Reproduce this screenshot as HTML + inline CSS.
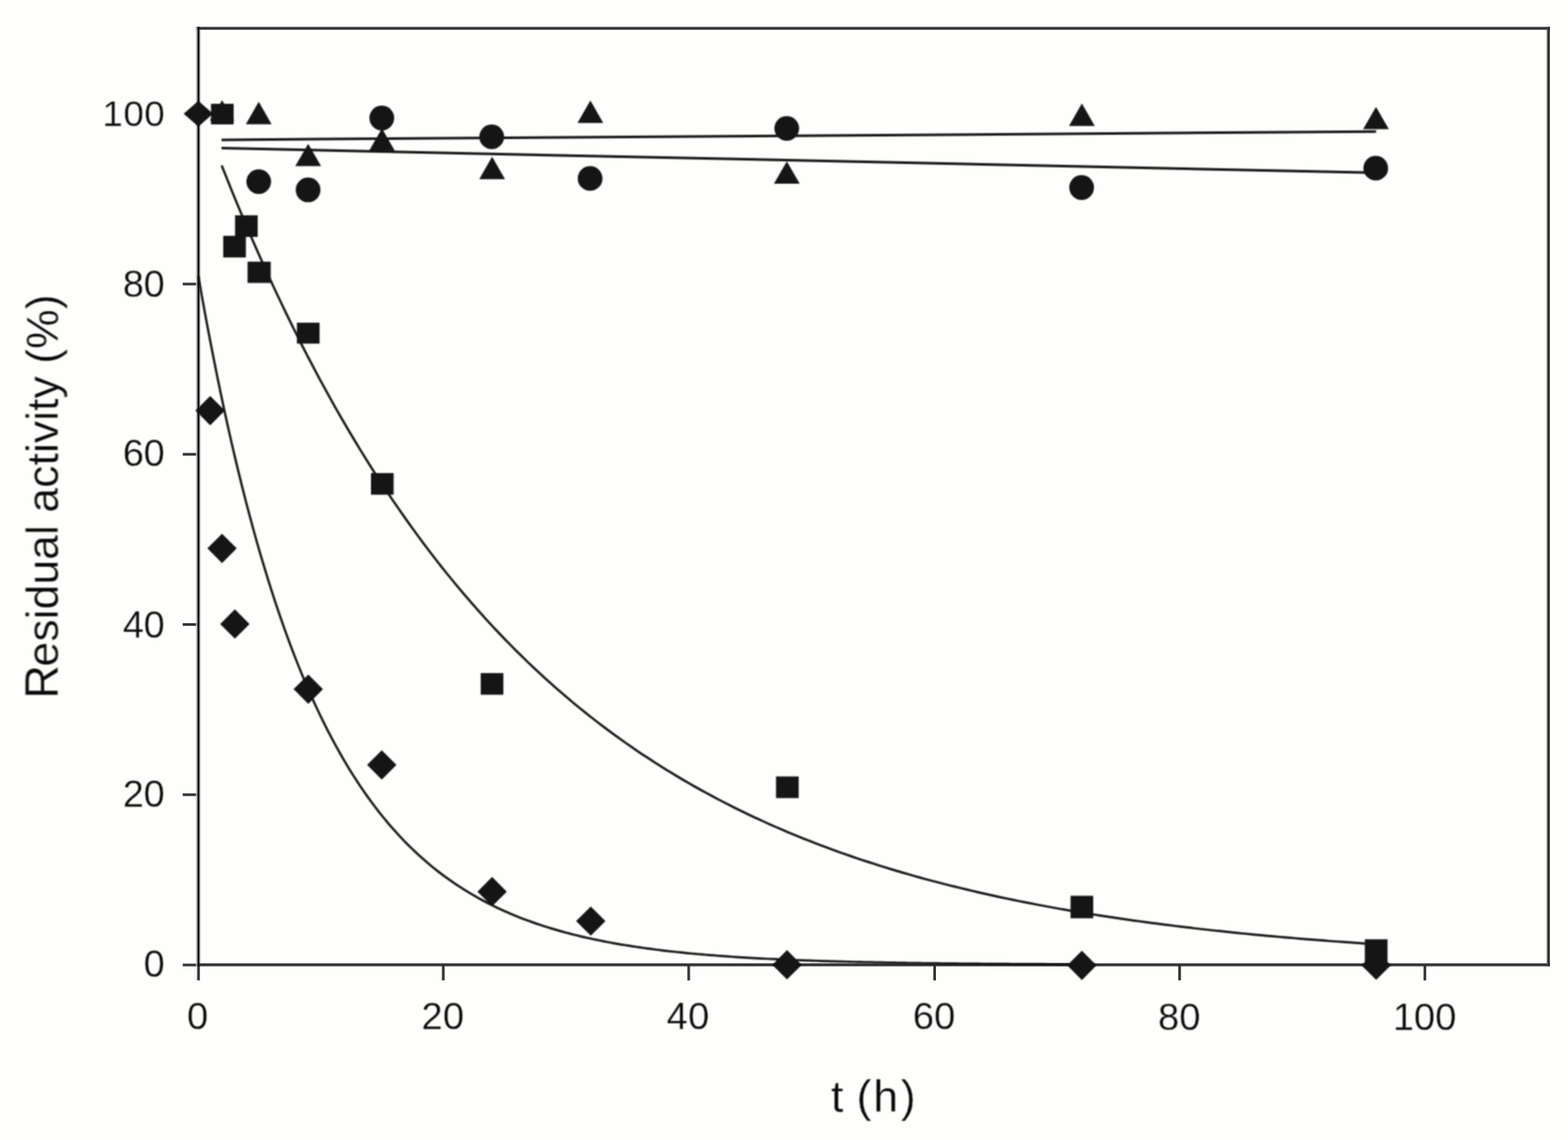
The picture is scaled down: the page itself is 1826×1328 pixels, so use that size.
<!DOCTYPE html>
<html lang="en"><head><meta charset="utf-8"><title>Residual activity vs t (h)</title>
<style>
html,body{margin:0;padding:0;background:#fefefc;}
body{width:1826px;height:1328px;overflow:hidden;}
svg{display:block;}
text{font-family:"Liberation Sans",sans-serif;fill:#0a0a0a;stroke:#fefefc;stroke-width:0.3px;paint-order:fill stroke;}
</style></head><body>
<svg width="1826" height="1328" viewBox="0 0 1826 1328">
<rect x="0" y="0" width="1826" height="1328" fill="#fefefc"/>
<rect x="229.60" y="1123.90" width="3.10" height="18.20" fill="#333333"/>
<rect x="212.80" y="1122.55" width="18.20" height="3.10" fill="#333333"/>
<rect x="514.65" y="1123.90" width="3.10" height="18.20" fill="#333333"/>
<rect x="212.80" y="924.25" width="18.20" height="3.10" fill="#333333"/>
<rect x="800.45" y="1123.90" width="3.10" height="18.20" fill="#333333"/>
<rect x="212.80" y="725.95" width="18.20" height="3.10" fill="#333333"/>
<rect x="1086.85" y="1123.90" width="3.10" height="18.20" fill="#333333"/>
<rect x="212.80" y="527.65" width="18.20" height="3.10" fill="#333333"/>
<rect x="1372.15" y="1123.90" width="3.10" height="18.20" fill="#333333"/>
<rect x="212.80" y="329.35" width="18.20" height="3.10" fill="#333333"/>
<rect x="1657.75" y="1123.90" width="3.10" height="18.20" fill="#333333"/>
<rect x="216.50" y="131.05" width="14.50" height="3.10" fill="#333333"/>
<rect x="228.40" y="31.35" width="1576.40" height="3.30" fill="#323232"/>
<rect x="228.40" y="1122.25" width="1576.40" height="3.35" fill="#323232"/>
<rect x="1801.40" y="31.35" width="1.60" height="1094.25" fill="#4a4a4a"/>
<rect x="1803.00" y="31.35" width="1.80" height="1094.25" fill="#242424"/>
<rect x="228.20" y="31.60" width="1.00" height="1094.25" fill="#c4c4c2"/>
<rect x="229.20" y="31.60" width="1.00" height="1094.25" fill="#8e8e8c"/>
<rect x="232.20" y="34.90" width="0.80" height="1087.10" fill="#b4b4b2"/>
<rect x="233.00" y="34.90" width="0.90" height="1087.10" fill="#dcdcda"/>
<rect x="230.10" y="31.30" width="2.20" height="1094.55" fill="#0c0c0c"/>
<defs><filter id="soft" x="0" y="0" width="1826" height="1328" filterUnits="userSpaceOnUse" color-interpolation-filters="sRGB"><feConvolveMatrix order="3" kernelMatrix="1 2 1 2 4 2 1 2 1" divisor="16" edgeMode="none" preserveAlpha="false"/></filter></defs>
<g filter="url(#soft)">
<text x="230.10" y="1199.30" font-size="44.5" letter-spacing="-0.2" text-anchor="middle">0</text>
<text x="191.70" y="1138.40" font-size="44.2" letter-spacing="-0.2" text-anchor="end">0</text>
<text x="515.69" y="1199.30" font-size="44.5" letter-spacing="0.3" text-anchor="middle">20</text>
<text x="191.70" y="940.10" font-size="44.2" letter-spacing="-0.2" text-anchor="end">20</text>
<text x="801.28" y="1199.40" font-size="44.5" letter-spacing="0.2" text-anchor="middle">40</text>
<text x="191.70" y="742.50" font-size="44.2" letter-spacing="-0.2" text-anchor="end">40</text>
<text x="1087.72" y="1199.30" font-size="44.5" letter-spacing="0" text-anchor="middle">60</text>
<text x="191.70" y="543.20" font-size="44.2" letter-spacing="-0.2" text-anchor="end">60</text>
<text x="1373.16" y="1199.50" font-size="44.5" letter-spacing="-0.2" text-anchor="middle">80</text>
<text x="191.70" y="345.50" font-size="44.2" letter-spacing="-0.2" text-anchor="end">80</text>
<text x="1659.00" y="1199.50" font-size="44.5" letter-spacing="0" text-anchor="middle">100</text>
<text x="192.50" y="146.90" font-size="42.8" letter-spacing="0.6" text-anchor="end">100</text>
<text class="lb" x="967.8 982.6 997.4 1017.0 1048.9" y="1295.10" font-size="52">t (h)</text>
<text class="lb" transform="translate(67.40,814.01) rotate(-90)" font-size="52"><tspan font-size="54.6">R</tspan><tspan dx="-1.9">esidual activity (%)</tspan></text>
<line x1="258.00" y1="162.90" x2="1602.50" y2="153.30" stroke="#161616" stroke-width="3"/>
<line x1="258.00" y1="172.60" x2="1602.50" y2="201.20" stroke="#161616" stroke-width="3"/>
<polyline points="258.14,192.73 264.86,209.62 271.58,226.21 278.31,242.50 285.03,258.49 291.75,274.20 298.48,289.62 305.20,304.75 311.92,319.62 318.65,334.21 325.37,348.54 332.09,362.61 338.81,376.43 345.54,389.99 352.26,403.31 358.98,416.38 365.71,429.22 372.43,441.82 379.15,454.20 385.88,466.35 392.60,478.29 399.32,490.00 406.05,501.50 412.77,512.80 419.49,523.89 426.22,534.77 432.94,545.46 439.66,555.96 446.39,566.26 453.11,576.38 459.83,586.32 466.56,596.07 473.28,605.65 480.00,615.05 486.73,624.29 493.45,633.35 500.17,642.25 506.90,650.99 513.62,659.58 520.34,668.00 527.07,676.27 533.79,684.40 540.51,692.37 547.24,700.20 553.96,707.89 560.68,715.44 567.41,722.85 574.13,730.13 580.85,737.27 587.58,744.29 594.30,751.18 601.02,757.94 607.74,764.58 614.47,771.10 621.19,777.50 627.91,783.79 634.64,789.96 641.36,796.02 648.08,801.97 654.81,807.81 661.53,813.55 668.25,819.18 674.98,824.71 681.70,830.14 688.42,835.47 695.15,840.70 701.87,845.84 708.59,850.88 715.32,855.84 722.04,860.70 728.76,865.48 735.49,870.17 742.21,874.77 748.93,879.29 755.66,883.73 762.38,888.09 769.10,892.37 775.83,896.57 782.55,900.69 789.27,904.74 796.00,908.72 802.72,912.63 809.44,916.46 816.17,920.22 822.89,923.92 829.61,927.55 836.34,931.11 843.06,934.61 849.78,938.04 856.51,941.42 863.23,944.73 869.95,947.98 876.67,951.17 883.40,954.30 890.12,957.38 896.84,960.40 903.57,963.37 910.29,966.28 917.01,969.14 923.74,971.95 930.46,974.71 937.18,977.42 943.91,980.07 950.63,982.68 957.35,985.25 964.08,987.76 970.80,990.23 977.52,992.66 984.25,995.04 990.97,997.38 997.69,999.67 1004.42,1001.93 1011.14,1004.14 1017.86,1006.31 1024.59,1008.45 1031.31,1010.54 1038.03,1012.60 1044.76,1014.62 1051.48,1016.60 1058.20,1018.55 1064.93,1020.46 1071.65,1022.34 1078.37,1024.18 1085.10,1025.99 1091.82,1027.77 1098.54,1029.51 1105.27,1031.22 1111.99,1032.91 1118.71,1034.56 1125.44,1036.18 1132.16,1037.77 1138.88,1039.33 1145.60,1040.87 1152.33,1042.37 1159.05,1043.85 1165.77,1045.31 1172.50,1046.73 1179.22,1048.13 1185.94,1049.51 1192.67,1050.86 1199.39,1052.18 1206.11,1053.48 1212.84,1054.76 1219.56,1056.02 1226.28,1057.25 1233.01,1058.46 1239.73,1059.64 1246.45,1060.81 1253.18,1061.96 1259.90,1063.08 1266.62,1064.18 1273.35,1065.27 1280.07,1066.33 1286.79,1067.37 1293.52,1068.40 1300.24,1069.41 1306.96,1070.40 1313.69,1071.37 1320.41,1072.32 1327.13,1073.26 1333.86,1074.18 1340.58,1075.08 1347.30,1075.96 1354.03,1076.83 1360.75,1077.69 1367.47,1078.53 1374.20,1079.35 1380.92,1080.16 1387.64,1080.95 1394.37,1081.73 1401.09,1082.50 1407.81,1083.25 1414.54,1083.98 1421.26,1084.71 1427.98,1085.42 1434.70,1086.12 1441.43,1086.80 1448.15,1087.48 1454.87,1088.14 1461.60,1088.79 1468.32,1089.42 1475.04,1090.05 1481.77,1090.66 1488.49,1091.27 1495.21,1091.86 1501.94,1092.44 1508.66,1093.01 1515.38,1093.57 1522.11,1094.12 1528.83,1094.66 1535.55,1095.19 1542.28,1095.71 1549.00,1096.23 1555.72,1096.73 1562.45,1097.22 1569.17,1097.70 1575.89,1098.18 1582.62,1098.65 1589.34,1099.11 1596.06,1099.56 1602.79,1100.00" fill="none" stroke="#161616" stroke-width="2.7" stroke-linejoin="round"/>
<polyline points="231.00,321.78 235.28,346.00 239.57,369.49 243.85,392.26 248.14,414.36 252.42,435.78 256.71,456.56 260.99,476.71 265.28,496.25 269.56,515.20 273.85,533.58 278.13,551.41 282.42,568.69 286.70,585.46 290.98,601.71 295.27,617.48 299.55,632.77 303.84,647.60 308.12,661.98 312.41,675.93 316.69,689.46 320.98,702.58 325.26,715.30 329.55,727.64 333.83,739.60 338.12,751.20 342.40,762.46 346.68,773.37 350.97,783.96 355.25,794.22 359.54,804.17 363.82,813.83 368.11,823.19 372.39,832.27 376.68,841.08 380.96,849.62 385.25,857.90 389.53,865.93 393.81,873.72 398.10,881.27 402.38,888.60 406.67,895.70 410.95,902.59 415.24,909.28 419.52,915.76 423.81,922.04 428.09,928.14 432.38,934.05 436.66,939.78 440.95,945.34 445.23,950.73 449.51,955.96 453.80,961.03 458.08,965.95 462.37,970.72 466.65,975.34 470.94,979.83 475.22,984.18 479.51,988.40 483.79,992.49 488.08,996.46 492.36,1000.31 496.65,1004.04 500.93,1007.66 505.21,1011.17 509.50,1014.57 513.78,1017.87 518.07,1021.07 522.35,1024.18 526.64,1027.19 530.92,1030.11 535.21,1032.94 539.49,1035.69 543.78,1038.35 548.06,1040.93 552.35,1043.44 556.63,1045.87 560.91,1048.23 565.20,1050.51 569.48,1052.73 573.77,1054.88 578.05,1056.96 582.34,1058.98 586.62,1060.94 590.91,1062.84 595.19,1064.69 599.48,1066.47 603.76,1068.21 608.04,1069.89 612.33,1071.52 616.61,1073.10 620.90,1074.64 625.18,1076.12 629.47,1077.57 633.75,1078.96 638.04,1080.32 642.32,1081.64 646.61,1082.91 650.89,1084.15 655.18,1085.35 659.46,1086.52 663.74,1087.64 668.03,1088.74 672.31,1089.80 676.60,1090.83 680.88,1091.83 685.17,1092.80 689.45,1093.74 693.74,1094.65 698.02,1095.53 702.31,1096.39 706.59,1097.22 710.88,1098.02 715.16,1098.80 719.44,1099.56 723.73,1100.30 728.01,1101.01 732.30,1101.70 736.58,1102.37 740.87,1103.02 745.15,1103.65 749.44,1104.26 753.72,1104.86 758.01,1105.43 762.29,1105.99 766.58,1106.53 770.86,1107.05 775.14,1107.56 779.43,1108.06 783.71,1108.53 788.00,1109.00 792.28,1109.45 796.57,1109.88 800.85,1110.31 805.14,1110.72 809.42,1111.12 813.71,1111.50 817.99,1111.88 822.27,1112.24 826.56,1112.59 830.84,1112.93 835.13,1113.26 839.41,1113.59 843.70,1113.90 847.98,1114.20 852.27,1114.49 856.55,1114.78 860.84,1115.05 865.12,1115.32 869.41,1115.58 873.69,1115.83 877.97,1116.07 882.26,1116.31 886.54,1116.54 890.83,1116.76 895.11,1116.98 899.40,1117.19 903.68,1117.39 907.97,1117.58 912.25,1117.78 916.54,1117.96 920.82,1118.14 925.11,1118.31 929.39,1118.48 933.67,1118.65 937.96,1118.80 942.24,1118.96 946.53,1119.11 950.81,1119.25 955.10,1119.39 959.38,1119.53 963.67,1119.66 967.95,1119.79 972.24,1119.91 976.52,1120.03 980.80,1120.15 985.09,1120.26 989.37,1120.37 993.66,1120.48 997.94,1120.58 1002.23,1120.68 1006.51,1120.78 1010.80,1120.87 1015.08,1120.97 1019.37,1121.05 1023.65,1121.14 1027.94,1121.22 1032.22,1121.30 1036.50,1121.38 1040.79,1121.46 1045.07,1121.53 1049.36,1121.60 1053.64,1121.67 1057.93,1121.74 1062.21,1121.81 1066.50,1121.87 1070.78,1121.93 1075.07,1121.99 1079.35,1122.05 1083.64,1122.10 1087.92,1122.16 1092.20,1122.21 1096.49,1122.26 1100.77,1122.31 1105.06,1122.36 1109.34,1122.41 1113.63,1122.45 1117.91,1122.49 1122.20,1122.54 1126.48,1122.58 1130.77,1122.62 1135.05,1122.66 1139.34,1122.69 1143.62,1122.73 1147.90,1122.77 1152.19,1122.80 1156.47,1122.83 1160.76,1122.87 1165.04,1122.90 1169.33,1122.93 1173.61,1122.96 1177.90,1122.98 1182.18,1123.01 1186.47,1123.04 1190.75,1123.07 1195.03,1123.09 1199.32,1123.11 1203.60,1123.14 1207.89,1123.16 1212.17,1123.18 1216.46,1123.21 1220.74,1123.23 1225.03,1123.25 1229.31,1123.27 1233.60,1123.29 1237.88,1123.30 1242.17,1123.32 1246.45,1123.34 1250.73,1123.36 1255.02,1123.37 1259.30,1123.39" fill="none" stroke="#161616" stroke-width="2.7" stroke-linejoin="round"/>
<polygon points="258.60,116.80 272.90,140.60 244.30,140.60" fill="#151515"/>
<polygon points="301.30,118.50 316.30,144.70 286.30,144.70" fill="#151515"/>
<polygon points="358.90,167.40 373.90,193.60 343.90,193.60" fill="#151515"/>
<polygon points="444.80,149.50 459.80,175.70 429.80,175.70" fill="#151515"/>
<polygon points="573.10,182.50 588.10,208.70 558.10,208.70" fill="#151515"/>
<polygon points="687.50,117.00 702.50,143.20 672.50,143.20" fill="#151515"/>
<polygon points="916.30,187.90 931.30,214.10 901.30,214.10" fill="#151515"/>
<polygon points="1259.90,120.50 1274.90,146.70 1244.90,146.70" fill="#151515"/>
<polygon points="1602.40,124.40 1617.40,150.60 1587.40,150.60" fill="#151515"/>
<ellipse cx="301.30" cy="211.60" rx="14.4" ry="14.4" fill="#151515"/>
<ellipse cx="358.80" cy="221.20" rx="14.4" ry="14.4" fill="#151515"/>
<ellipse cx="444.60" cy="137.50" rx="14.4" ry="14.4" fill="#151515"/>
<ellipse cx="572.60" cy="159.40" rx="14.4" ry="14.4" fill="#151515"/>
<ellipse cx="687.20" cy="207.90" rx="14.4" ry="14.4" fill="#151515"/>
<ellipse cx="916.20" cy="149.60" rx="14.4" ry="14.4" fill="#151515"/>
<ellipse cx="1259.60" cy="218.50" rx="14.4" ry="14.4" fill="#151515"/>
<ellipse cx="1602.10" cy="195.90" rx="14.4" ry="14.4" fill="#151515"/>
<rect x="245.70" y="120.90" width="26.4" height="24" fill="#151515"/>
<rect x="259.95" y="274.70" width="26.4" height="25.2" fill="#151515"/>
<rect x="273.70" y="250.80" width="26.4" height="25.2" fill="#151515"/>
<rect x="288.30" y="304.80" width="27" height="24.8" fill="#151515"/>
<rect x="345.75" y="375.90" width="26.4" height="24.4" fill="#151515"/>
<rect x="432.00" y="551.10" width="26.4" height="25.2" fill="#151515"/>
<rect x="559.80" y="784.10" width="26.4" height="25.2" fill="#151515"/>
<rect x="903.70" y="904.50" width="26.4" height="25.2" fill="#151515"/>
<rect x="1246.70" y="1043.50" width="26.4" height="26.2" fill="#151515"/>
<rect x="1589.40" y="1094.20" width="26.4" height="26.6" fill="#151515"/>
<polygon points="231.00,117.60 248.10,132.60 231.00,147.60 213.90,132.60" fill="#151515"/>
<polygon points="244.80,461.20 261.90,478.30 244.80,495.40 227.70,478.30" fill="#151515"/>
<polygon points="258.60,621.70 275.70,638.80 258.60,655.90 241.50,638.80" fill="#151515"/>
<polygon points="273.50,709.80 290.60,726.90 273.50,744.00 256.40,726.90" fill="#151515"/>
<polygon points="359.00,785.70 376.10,802.80 359.00,819.90 341.90,802.80" fill="#151515"/>
<polygon points="444.60,874.00 461.70,891.10 444.60,908.20 427.50,891.10" fill="#151515"/>
<polygon points="573.10,1021.60 590.20,1038.70 573.10,1055.80 556.00,1038.70" fill="#151515"/>
<polygon points="688.00,1055.90 705.10,1073.00 688.00,1090.10 670.90,1073.00" fill="#151515"/>
<polygon points="916.50,1106.80 933.60,1123.90 916.50,1141.00 899.40,1123.90" fill="#151515"/>
<polygon points="1259.90,1107.50 1277.00,1124.60 1259.90,1141.70 1242.80,1124.60" fill="#151515"/>
<polygon points="1602.60,1107.40 1619.70,1124.50 1602.60,1141.60 1585.50,1124.50" fill="#151515"/>
</g>
</svg>
</body></html>
